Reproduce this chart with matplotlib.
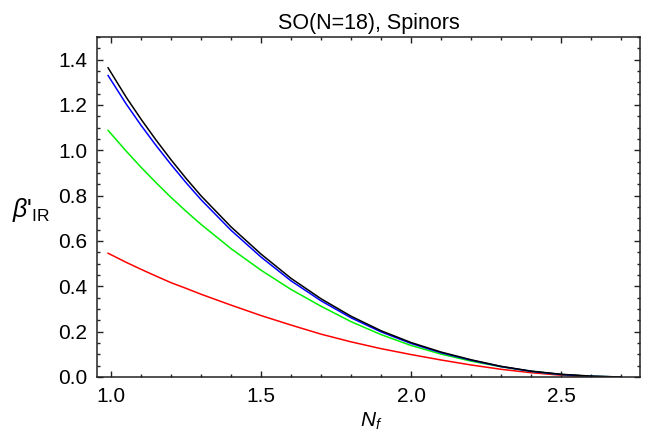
import numpy as np
import matplotlib.pyplot as plt
from matplotlib.ticker import MultipleLocator

plt.rcParams['font.family'] = ['Liberation Sans', 'DejaVu Sans']
plt.rcParams['mathtext.fontset'] = 'custom'
plt.rcParams['mathtext.it'] = 'Liberation Sans:italic'
plt.rcParams['mathtext.rm'] = 'Liberation Sans'

# ── curves (N_f vs beta'_IR) ──
nf = [0.99, 1.05, 1.1, 1.15, 1.2, 1.25, 1.3, 1.4, 1.5, 1.6, 1.7, 1.8, 1.9,
      2.0, 2.1, 2.2, 2.3, 2.4, 2.5, 2.6, 2.7]
beta_black = [1.364, 1.235, 1.137, 1.045, 0.958, 0.876, 0.799, 0.662, 0.542, 0.435,
              0.345, 0.268, 0.204, 0.152, 0.110, 0.076, 0.047, 0.026, 0.012, 0.004, 0.0]
beta_blue = [1.330, 1.205, 1.110, 1.021, 0.937, 0.857, 0.782, 0.647, 0.529, 0.424,
             0.336, 0.261, 0.199, 0.148, 0.107, 0.074, 0.046, 0.025, 0.011, 0.003, 0.0]
beta_green = [1.088, 0.997, 0.925, 0.857, 0.792, 0.731, 0.673, 0.566, 0.471, 0.386,
              0.312, 0.244, 0.187, 0.139, 0.101, 0.070, 0.045, 0.025, 0.011, 0.003, 0.0]
nf_red = [0.99, 1.05, 1.1, 1.15, 1.2, 1.25, 1.3, 1.4, 1.5, 1.6, 1.7, 1.8, 1.9,
          2.0, 2.1, 2.2, 2.3, 2.4, 2.5, 2.6]
beta_red = [0.546, 0.506, 0.475, 0.445, 0.416, 0.391, 0.365, 0.317, 0.271, 0.229,
            0.189, 0.155, 0.125, 0.099, 0.075, 0.053, 0.034, 0.019, 0.008, 0.0]

fig = plt.figure(figsize=(6.5, 4.37), dpi=100)
ax = fig.add_axes([97 / 650, 1 - 377 / 437, (640 - 97) / 650, (377 - 37) / 437])

lw = 1.1
ax.plot(nf_red, beta_red, color='#ff0000', lw=lw)
ax.plot(nf, beta_green, color='#00f000', lw=lw)
ax.plot(nf, beta_blue, color='#0000ff', lw=lw)
ax.plot(nf, beta_black, color='#000000', lw=lw)

ax.set_xlim(0.953, 2.763)
ax.set_ylim(0, 1.5)
ax.xaxis.set_major_locator(MultipleLocator(0.5))
ax.xaxis.set_minor_locator(MultipleLocator(0.1))
ax.yaxis.set_major_locator(MultipleLocator(0.2))
ax.yaxis.set_minor_locator(MultipleLocator(0.05))
ax.xaxis.set_major_formatter(plt.FuncFormatter(lambda v, p: f"{v:.1f}"))
ax.yaxis.set_major_formatter(plt.FuncFormatter(lambda v, p: f"{v:.1f}"))

for s in ax.spines.values():
    s.set_linewidth(1.1)
    s.set_color('#222222')
ax.tick_params(which='both', direction='in', top=True, right=True,
               color='#222222', width=1.0, labelsize=15)
ax.tick_params(axis='y', pad=7)
ax.tick_params(axis='x', pad=7)
ax.tick_params(which='major', length=4)
ax.tick_params(which='minor', length=2.5)

ax.set_title('SO(N=18), Spinors', fontsize=15.5, pad=6)
fig.text(31 / 650, 1 - 210 / 437, r"$\beta$'$_{\mathrm{IR}}$", fontsize=18,
         ha='center', va='center')
fig.text(371 / 650, 1 - 421 / 437, r"$N_f$", fontsize=15, ha='center', va='center')

fig.savefig('out.png', dpi=100)
